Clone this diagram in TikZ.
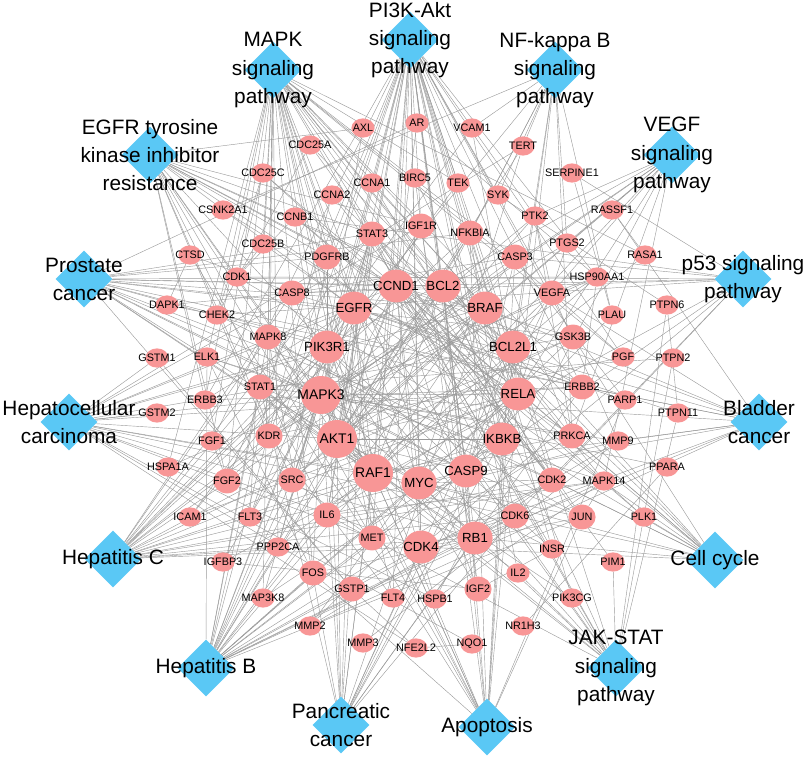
\documentclass[tikz,border=0pt]{standalone}
\usepackage{fontspec}
\setmainfont{Liberation Sans}
\usetikzlibrary{shapes.geometric,backgrounds}
\definecolor{pathblue}{RGB}{90,200,245}
\definecolor{genepink}{RGB}{248,150,150}

\begin{document}
\begin{tikzpicture}[x=0.025cm,y=-0.025cm,
  pway/.style={diamond,minimum size=1.42cm,inner sep=0pt,fill=pathblue},
  plabel/.style={align=center,inner sep=0pt,font=\fontsize{14.8}{20}\selectfont},
  gene/.style={ellipse,fill=genepink,inner sep=0pt,
    execute at begin node={\hbox to 0pt\bgroup\hss},
    execute at end node={\hss\egroup}},
  gs/.style={gene,minimum width=0.58cm,minimum height=0.48cm,font=\fontsize{7.7}{9}\selectfont},
  gm/.style={gene,minimum width=0.68cm,minimum height=0.62cm,font=\fontsize{7.7}{9}\selectfont},
  gl/.style={gene,minimum width=0.88cm,minimum height=0.82cm,font=\fontsize{9.4}{11}\selectfont},
  gx/.style={gene,minimum width=1.0cm,minimum height=0.95cm,font=\fontsize{9.9}{12}\selectfont},
  link/.style={draw=black!40,line width=0.3pt}]

  \useasboundingbox (0,0) rectangle (803,757);

  % pathways
  \node[pway,label={[plabel]center:MAPK\\signaling\\pathway}]           at (273, 70) (mapk)  {};
  \node[pway,label={[plabel]center:PI3K-Akt\\signaling\\pathway}]       at (410, 40) (pik)   {};
  \node[pway,label={[plabel]center:NF-kappa B\\signaling\\pathway}]     at (555, 70) (nfkb)  {};
  \node[pway,label={[plabel]center:VEGF\\signaling\\pathway}]           at (672,155) (vegf)  {};
  \node[pway,label={[plabel]center:p53 signaling\\pathway}]             at (743,279) (pfs)   {};
  \node[pway,label={[plabel]center:Bladder\\cancer}]                    at (759,422) (bladd) {};
  \node[pway,label={[plabel]center:Cell cycle}]                         at (715,560) (cellc) {};
  \node[pway,label={[plabel]center:JAK-STAT\\signaling\\pathway}]       at (616,668) (jak)   {};
  \node[pway,label={[plabel]center:Apoptosis}]                          at (487,727) (apop)  {};
  \node[pway,label={[plabel]center:Pancreatic\\cancer}]                 at (341,725) (panc)  {};
  \node[pway,label={[plabel]center:Hepatitis B}]                        at (206,668) (hepb)  {};
  \node[pway,label={[plabel]center:Hepatitis C}]                        at (113,559) (hepc)  {};
  \node[pway,label={[plabel]center:Hepatocellular\\carcinoma}]          at ( 69,422) (hcc)   {};
  \node[pway,label={[plabel]center:Prostate\\cancer}]                   at ( 84,279) (prost) {};
  \node[pway,label={[plabel]center:EGFR tyrosine\\kinase inhibitor\\resistance}] at (150,155) (tki) {};

  % genes, upper half
  \node[gs] at (363,128) (AXL)      {AXL};
  \node[gs] at (310,145) (CDC25A)   {CDC25A};
  \node[gs] at (263,173) (CDC25C)   {CDC25C};
  \node[gs] at (372,183) (CCNA1)    {CCNA1};
  \node[gs] at (332,195) (CCNA2)    {CCNA2};
  \node[gs] at (223,210) (CSNK2A1)  {CSNK2A1};
  \node[gs] at (295,217) (CCNB1)    {CCNB1};
  \node[gm] at (372,234) (STAT3)    {STAT3};
  \node[gs] at (263,244) (CDC25B)   {CDC25B};
  \node[gm] at (327,257) (PDGFRB)   {PDGFRB};
  \node[gs] at (190,255) (CTSD)     {CTSD};
  \node[gs] at (237,277) (CDK1)     {CDK1};
  \node[gm] at (292,293) (CASP8)    {CASP8};
  \node[gl] at (396,286) (CCND1)    {CCND1};
  \node[gl] at (354,308) (EGFR)     {EGFR};
  \node[gs] at (167,305) (DAPK1)    {DAPK1};
  \node[gs] at (217,315) (CHEK2)    {CHEK2};
  \node[gm] at (268,337) (MAPK8)    {MAPK8};
  \node[gl] at (327,347) (PIK3R1)   {PIK3R1};
  \node[gs] at (157,358) (GSTM1)    {GSTM1};
  \node[gs] at (207,357) (ELK1)     {ELK1};
  \node[gs] at (417,123) (AR)       {AR};
  \node[gs] at (472,128) (VCAM1)    {VCAM1};
  \node[gs] at (523,146) (TERT)     {TERT};
  \node[gs] at (415,178) (BIRC5)    {BIRC5};
  \node[gs] at (458,183) (TEK)      {TEK};
  \node[gs] at (572,173) (SERPINE1) {SERPINE1};
  \node[gs] at (498,195) (SYK)      {SYK};
  \node[gs] at (535,216) (PTK2)     {PTK2};
  \node[gs] at (612,210) (RASSF1)   {RASSF1};
  \node[gm] at (421,226) (IGF1R)    {IGF1R};
  \node[gm] at (470,233) (NFKBIA)   {NFKBIA};
  \node[gm] at (515,257) (CASP3)    {CASP3};
  \node[gs] at (567,243) (PTGS2)    {PTGS2};
  \node[gs] at (645,255) (RASA1)    {RASA1};
  \node[gs] at (597,277) (HSP90AA1) {HSP90AA1};
  \node[gl] at (443,286) (BCL2)     {BCL2};
  \node[gl] at (485,308) (BRAF)     {BRAF};
  \node[gm] at (552,293) (VEGFA)    {VEGFA};
  \node[gs] at (667,305) (PTPN6)    {PTPN6};
  \node[gs] at (612,315) (PLAU)     {PLAU};
  \node[gm] at (573,337) (GSK3B)    {GSK3B};
  \node[gl] at (513,347) (BCL2L1)   {BCL2L1};
  \node[gs] at (623,357) (PGF)      {PGF};
  \node[gs] at (673,358) (PTPN2)    {PTPN2};

  % genes, lower half
  \node[gm] at (260,387) (STAT1)    {STAT1};
  \node[gs] at (205,400) (ERBB3)    {ERBB3};
  \node[gs] at (157,413) (GSTM2)    {GSTM2};
  \node[gx] at (321,395) (MAPK3)    {MAPK3};
  \node[gx] at (337,439) (AKT1)     {AKT1};
  \node[gx] at (373,473) (RAF1)     {RAF1};
  \node[gl] at (419,483) (MYC)      {MYC};
  \node[gl] at (466,471) (CASP9)    {CASP9};
  \node[gl] at (502,439) (IKBKB)    {IKBKB};
  \node[gl] at (518,394) (RELA)     {RELA};
  \node[gm] at (269,436) (KDR)      {KDR};
  \node[gs] at (212,441) (FGF1)     {FGF1};
  \node[gs] at (168,467) (HSPA1A)   {HSPA1A};
  \node[gm] at (227,481) (FGF2)     {FGF2};
  \node[gm] at (292,480) (SRC)      {SRC};
  \node[gs] at (190,517) (ICAM1)    {ICAM1};
  \node[gs] at (250,517) (FLT3)     {FLT3};
  \node[gm] at (327,515) (IL6)      {IL6};
  \node[gm] at (372,538) (MET)      {MET};
  \node[gs] at (278,547) (PPP2CA)   {PPP2CA};
  \node[gs] at (223,562) (IGFBP3)   {IGFBP3};
  \node[gm] at (313,573) (FOS)      {FOS};
  \node[gm] at (352,589) (GSTP1)    {GSTP1};
  \node[gs] at (263,598) (MAP3K8)   {MAP3K8};
  \node[gs] at (310,626) (MMP2)     {MMP2};
  \node[gs] at (363,643) (MMP3)     {MMP3};
  \node[gs] at (393,598) (FLT4)     {FLT4};
  \node[gl] at (421,547) (CDK4)     {CDK4};
  \node[gl] at (475,538) (RB1)      {RB1};
  \node[gs] at (435,599) (HSPB1)    {HSPB1};
  \node[gs] at (416,648) (NFE2L2)   {NFE2L2};
  \node[gs] at (472,644) (NQO1)     {NQO1};
  \node[gm] at (478,589) (IGF2)     {IGF2};
  \node[gs] at (523,626) (NR1H3)    {NR1H3};
  \node[gs] at (518,573) (IL2)      {IL2};
  \node[gs] at (552,549) (INSR)     {INSR};
  \node[gm] at (515,516) (CDK6)     {CDK6};
  \node[gm] at (582,517) (JUN)      {JUN};
  \node[gs] at (572,598) (PIK3CG)   {PIK3CG};
  \node[gs] at (613,562) (PIM1)     {PIM1};
  \node[gs] at (644,517) (PLK1)     {PLK1};
  \node[gm] at (552,480) (CDK2)     {CDK2};
  \node[gs] at (604,481) (MAPK14)   {MAPK14};
  \node[gs] at (667,467) (PPARA)    {PPARA};
  \node[gm] at (572,436) (PRKCA)    {PRKCA};
  \node[gs] at (618,441) (MMP9)     {MMP9};
  \node[gm] at (582,387) (ERBB2)    {ERBB2};
  \node[gs] at (625,400) (PARP1)    {PARP1};
  \node[gs] at (678,413) (PTPN11)   {PTPN11};

  \begin{pgfonlayer}{background}
  % pathway - gene
  \foreach \g in {EGFR,ERBB2,ERBB3,PDGFRB,FGF1,FGF2,KDR,FLT3,FLT4,IGF1R,INSR,MET,TEK,PGF,VEGFA,IGF2,AKT1,RAF1,BRAF,MAPK3,MAPK8,MAPK14,MAP3K8,ELK1,MYC,FOS,JUN,RELA,IKBKB,PRKCA,CASP3,HSPB1,HSPA1A,PPP2CA,CDC25B,RASA1}
    \draw[link] (mapk) -- (\g);
  \foreach \g in {EGFR,ERBB2,ERBB3,PDGFRB,FGF1,FGF2,KDR,FLT3,FLT4,IGF1R,INSR,MET,TEK,PGF,VEGFA,IGF2,IL6,IL2,AKT1,PIK3R1,PIK3CG,RAF1,MAPK3,GSK3B,MYC,CCND1,CDK4,CDK6,CDK2,RB1,BCL2,BCL2L1,CASP9,RELA,IKBKB,HSP90AA1,PTK2,SYK,PPP2CA,PRKCA}
    \draw[link] (pik) -- (\g);
  \foreach \g in {RELA,IKBKB,NFKBIA,BCL2,BCL2L1,SYK,PTGS2,VCAM1,ICAM1,PLAU,CSNK2A1,PRKCA,TERT}
    \draw[link] (nfkb) -- (\g);
  \foreach \g in {VEGFA,KDR,PTGS2,PTK2,PRKCA,AKT1,RAF1,MAPK3,MAPK14,SRC,PIK3R1,CASP9,HSPB1}
    \draw[link] (vegf) -- (\g);
  \foreach \g in {CCND1,CDK4,CDK6,CDK2,CDK1,CCNB1,CHEK2,CASP8,CASP9,CASP3,SERPINE1,IGFBP3}
    \draw[link] (pfs) -- (\g);
  \foreach \g in {EGFR,ERBB2,RAF1,BRAF,MAPK3,CCND1,CDK4,RB1,MYC,VEGFA,MMP2,MMP9,DAPK1,RASSF1}
    \draw[link] (bladd) -- (\g);
  \foreach \g in {CCND1,CDK4,CDK6,CDK2,CDK1,CCNA1,CCNA2,CCNB1,CDC25A,CDC25B,CDC25C,CHEK2,RB1,MYC,GSK3B,PLK1}
    \draw[link] (cellc) -- (\g);
  \foreach \g in {IL6,IL2,PIK3R1,PIK3CG,AKT1,MYC,CCND1,BCL2,BCL2L1,STAT1,STAT3,PIM1,PTPN6,PTPN11,PTPN2,EGFR,PDGFRB}
    \draw[link] (jak) -- (\g);
  \foreach \g in {CASP3,CASP8,CASP9,BCL2,BCL2L1,AKT1,PIK3R1,RELA,IKBKB,NFKBIA,MAPK3,RAF1,JUN,FOS,MAPK8,PARP1,CTSD,BIRC5}
    \draw[link] (apop) -- (\g);
  \foreach \g in {EGFR,ERBB2,RAF1,BRAF,MAPK3,AKT1,PIK3R1,CCND1,CDK4,CDK6,RB1,BCL2L1,RELA,IKBKB,STAT3,STAT1,VEGFA,MAPK8}
    \draw[link] (panc) -- (\g);
  \foreach \g in {AKT1,PIK3R1,RAF1,MAPK3,MAPK8,MAPK14,RELA,IKBKB,NFKBIA,STAT1,STAT3,MYC,FOS,JUN,CCND1,CDK4,CDK6,CDK2,RB1,BCL2,CASP3,CASP8,CASP9,IL6,PRKCA,ELK1,SRC,CCNA2}
    \draw[link] (hepb) -- (\g);
  \foreach \g in {AKT1,PIK3R1,RAF1,MAPK3,BRAF,MAPK8,MAPK14,RELA,IKBKB,NFKBIA,STAT1,STAT3,EGFR,CCND1,CDK4,CDK6,CDK2,RB1,CASP3,CASP8,CASP9,PPP2CA,GSK3B}
    \draw[link] (hepc) -- (\g);
  \foreach \g in {EGFR,ERBB2,IGF1R,MET,RAF1,BRAF,MAPK3,AKT1,PIK3R1,MYC,CCND1,CDK4,CDK6,RB1,GSTM1,GSTM2,GSTP1,NQO1,NFE2L2,TERT,GSK3B}
    \draw[link] (hcc) -- (\g);
  \foreach \g in {AR,EGFR,ERBB2,PDGFRB,IGF1R,RAF1,BRAF,MAPK3,AKT1,PIK3R1,CCND1,CDK2,RB1,RELA,IKBKB,NFKBIA,BCL2,GSK3B,HSP90AA1,GSTP1,CASP9}
    \draw[link] (prost) -- (\g);
  \foreach \g in {EGFR,ERBB2,ERBB3,MET,IGF1R,PDGFRB,FGF2,KDR,AXL,RAF1,BRAF,MAPK3,AKT1,PIK3R1,BCL2,BCL2L1,STAT3,IL6,SRC,PRKCA}
    \draw[link] (tki) -- (\g);
  % gene - gene
  \foreach \a/\b in {AKT1/PIK3R1,AKT1/MAPK3,AKT1/RAF1,AKT1/GSK3B,AKT1/BCL2,AKT1/CASP9,AKT1/IKBKB,AKT1/RELA,AKT1/MYC,AKT1/CCND1,
      AKT1/EGFR,AKT1/HSP90AA1,AKT1/NFKBIA,AKT1/BRAF,AKT1/STAT3,AKT1/SRC,AKT1/PTK2,AKT1/IGF1R,AKT1/INSR,AKT1/TERT,
      MAPK3/RAF1,MAPK3/BRAF,MAPK3/EGFR,MAPK3/ELK1,MAPK3/MYC,MAPK3/FOS,MAPK3/STAT3,MAPK3/STAT1,MAPK3/RELA,MAPK3/CASP9,
      MAPK3/PTGS2,MAPK3/MMP9,MAPK3/PPARA,MAPK3/MAP3K8,MAPK3/SRC,MAPK3/PRKCA,MAPK3/PTK2,RAF1/BRAF,RAF1/PRKCA,RAF1/BCL2,
      RAF1/EGFR,RAF1/MAPK8,RAF1/HSP90AA1,RAF1/PPP2CA,EGFR/ERBB2,EGFR/ERBB3,EGFR/STAT3,EGFR/PIK3R1,EGFR/SRC,EGFR/MET,
      EGFR/PTPN11,CCND1/CDK4,CCND1/CDK6,CCND1/RB1,CCND1/MYC,CCND1/CDK2,CCND1/STAT3,CCND1/GSK3B,CCND1/AR,CDK4/RB1,
      CDK6/RB1,CDK2/RB1,CDK2/CCNA1,CDK2/CCNA2,CDK1/CCNB1,CDK1/CDC25C,CDK2/CDC25A,CDK1/CDC25B,CHEK2/CDC25C,CHEK2/CDC25A,
      PLK1/CDC25C,PLK1/CCNB1,BCL2/BCL2L1,BCL2/CASP9,BCL2/CASP3,BCL2L1/CASP9,BCL2L1/STAT3,BCL2L1/RELA,CASP9/CASP3,CASP8/CASP3,
      CASP3/PARP1,CASP8/BCL2,RELA/IKBKB,RELA/NFKBIA,IKBKB/NFKBIA,RELA/PTGS2,RELA/ICAM1,RELA/VCAM1,RELA/IL6,RELA/BIRC5,
      VEGFA/KDR,KDR/PGF,VEGFA/PGF,VEGFA/HSP90AA1,VEGFA/PTK2,VEGFA/MMP9,VEGFA/MMP2,VEGFA/IL6,MYC/TERT,MYC/CDK4,
      MYC/GSK3B,MYC/JUN,JUN/FOS,JUN/MAPK8,FOS/ELK1,MAPK14/HSPB1,MAPK14/ELK1,MAPK14/JUN,STAT3/IL6,STAT3/SRC,
      STAT1/JUN,IL2/STAT1,PIM1/STAT3,IGF1R/IGF2,IGF1R/IGFBP3,IGF2/IGFBP3,INSR/IGF2,INSR/PIK3R1,PIK3CG/AKT1,MMP2/MMP9,
      MMP3/MMP9,MMP2/PLAU,PLAU/SERPINE1,ICAM1/VCAM1,GSTP1/GSTM1,GSTP1/NFE2L2,NQO1/NFE2L2,NR1H3/PPARA,HSPA1A/HSP90AA1,HSPA1A/HSPB1,
      DAPK1/CTSD,SYK/PTPN6,PTPN11/PTPN6,PTPN2/STAT1,TEK/KDR,FGF1/FGF2,PDGFRB/SRC,PDGFRB/PIK3R1,FLT3/PIK3R1,FLT4/KDR,
      ERBB2/ERBB3,ERBB2/HSP90AA1,RASA1/RAF1,RASSF1/RASA1,MAP3K8/IKBKB,AR/HSP90AA1,CTSD/CASP8,DAPK1/CASP8,PRKCA/PTK2,CSNK2A1/RELA,
      AXL/PIK3R1,IL6/MAPK14,FGF2/MAPK3,MET/SRC,CDK2/MYC,CDK4/CDK6,RB1/MYC,MMP9/IL6,PARP1/CASP8,IGF2/PIK3R1}
    \draw[link] (\a) -- (\b);
  \end{pgfonlayer}

\end{tikzpicture}
\end{document}
